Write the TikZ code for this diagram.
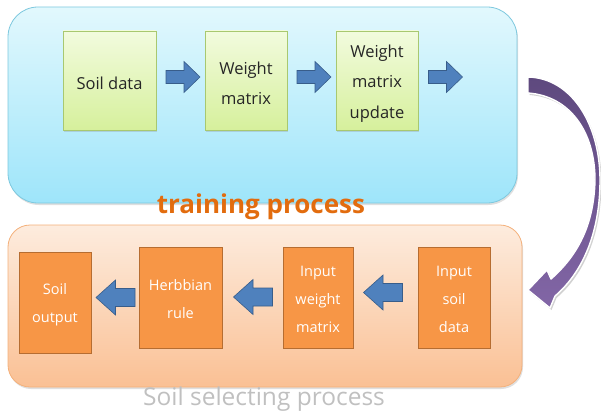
\documentclass[tikz,border=0pt]{standalone}
\usepackage{fontspec}
\setmainfont{Open Sans}
\usetikzlibrary{shadows}
\definecolor{panelAtop}{RGB}{226,248,253}
\definecolor{panelAbot}{RGB}{158,229,250}
\definecolor{panelAline}{RGB}{125,200,222}
\definecolor{panelBtop}{RGB}{253,236,222}
\definecolor{panelBbot}{RGB}{250,192,148}
\definecolor{panelBline}{RGB}{244,176,122}
\definecolor{greentop}{RGB}{242,251,222}
\definecolor{greenbot}{RGB}{214,240,156}
\definecolor{greenline}{RGB}{168,200,112}
\definecolor{orfill}{RGB}{247,150,70}
\definecolor{orline}{RGB}{182,109,49}
\definecolor{bluefill}{RGB}{79,129,189}
\definecolor{blueline}{RGB}{56,93,138}
\definecolor{purtop}{RGB}{94,73,126}
\definecolor{purbot}{RGB}{130,102,166}
\definecolor{ortext}{RGB}{226,108,14}
\definecolor{graytext}{RGB}{192,192,192}
\begin{document}
\begin{tikzpicture}[x=1pt,y=-1pt,
  panelA/.style={draw=panelAline,line width=0.8pt,top color=panelAtop,bottom color=panelAbot,rounded corners=30pt,
    drop shadow={shadow xshift=1pt,shadow yshift=-2pt,opacity=0.25}},
  panelB/.style={draw=panelBline,line width=0.8pt,top color=panelBtop,bottom color=panelBbot,rounded corners=22pt,
    drop shadow={shadow xshift=1pt,shadow yshift=-2pt,opacity=0.25}},
  greenbox/.style={draw=greenline,line width=0.7pt,top color=greentop,bottom color=greenbot,
    minimum height=99pt,
    drop shadow={shadow xshift=1pt,shadow yshift=-1.5pt,opacity=0.25}},
  gtext/.style={align=center,text=black!85,font=\fontsize{16.5}{30.5}\selectfont,yshift=-3pt},
  orbox/.style={draw=orline,line width=0.7pt,fill=orfill,minimum height=101pt},
  otext/.style={align=center,text=white,font=\fontsize{14.5}{28}\selectfont,yshift=-2pt},
  barrow/.style={draw=blueline,line width=0.6pt,fill=bluefill},
]
\useasboundingbox (0,0) rectangle (601,417);

% panels
\node[panelA,minimum width=509pt,minimum height=196pt] (train) at (262.5,105) {};
\node[panelB,minimum width=514pt,minimum height=162pt] (select) at (265,306) {};

% top boxes
\node[greenbox,minimum width=93pt,label={[gtext]center:Soil data}] (soil) at (109.5,80.5) {};
\node[greenbox,minimum width=82pt,label={[gtext]center:{Weight\\matrix}}] (wm) at (246,80.5) {};
\node[greenbox,minimum width=82pt,label={[gtext]center:{Weight\\matrix\\update}}] (wmu) at (377,80.5) {};

% bottom boxes
\node[orbox,minimum width=72pt,label={[otext]center:{Soil\\output}}] (sout) at (55,302.5) {};
\node[orbox,minimum width=83pt,label={[otext]center:{Herbbian\\rule}}] (herb) at (180.5,297.5) {};
\node[orbox,minimum width=70pt,label={[otext]center:{Input\\weight\\matrix}}] (iwm) at (318,297.5) {};
\node[orbox,minimum width=72pt,label={[otext]center:{Input\\soil\\data}}] (isd) at (454,297.5) {};

% right block arrows (top)
\foreach \cx in {183,314,445.5}{
  \draw[barrow,shift={(\cx,77)}] (-17,-6.5) -- (1,-6.5) -- (1,-15.5) -- (17,0) -- (1,15.5) -- (1,6.5) -- (-17,6.5) -- cycle;
}
% left block arrows (bottom)
\draw[barrow,shift={(115.5,297.5)}] (19.5,-9) -- (0,-9) -- (0,-17.5) -- (-19.5,0) -- (0,17.5) -- (0,9) -- (19.5,9) -- cycle;
\draw[barrow,shift={(253,297)}] (19.5,-9) -- (0,-9) -- (0,-17.5) -- (-19.5,0) -- (0,17.5) -- (0,9) -- (19.5,9) -- cycle;
\draw[barrow,shift={(383,292.5)}] (19.5,-9) -- (0,-9) -- (0,-17.5) -- (-19.5,0) -- (0,17.5) -- (0,9) -- (19.5,9) -- cycle;

% curved purple arrow
\path[fill=black,opacity=0.18,shift={(1.5,2)}]
  (528,77) .. controls (572,78) and (600,125) .. (600,180) .. controls (600,232) and (583,272) .. (555,296)
  -- (550,308) -- (528,290) -- (547,270) -- (551,279)
  .. controls (577,256) and (594,226) .. (595,180) .. controls (595,132) and (570,96) .. (528,93) -- cycle;
\draw[white,line width=1.4pt,top color=purtop,bottom color=purbot,line join=round]
  (528,77) .. controls (572,78) and (600,125) .. (600,180) .. controls (600,232) and (583,272) .. (555,296)
  -- (550,308) -- (528,290) -- (547,270) -- (551,279)
  .. controls (577,256) and (594,226) .. (595,180) .. controls (595,132) and (570,96) .. (528,93) -- cycle;

% labels
\node[anchor=base,text=ortext,font=\fontsize{26}{30}\selectfont\bfseries] (tlabel) at (261,213) {training process};
\node[anchor=base,text=graytext,font=\fontsize{24.5}{28}\selectfont,inner sep=0pt] (slabel) at (264,405) {Soil selecting process};
\end{tikzpicture}
\end{document}
